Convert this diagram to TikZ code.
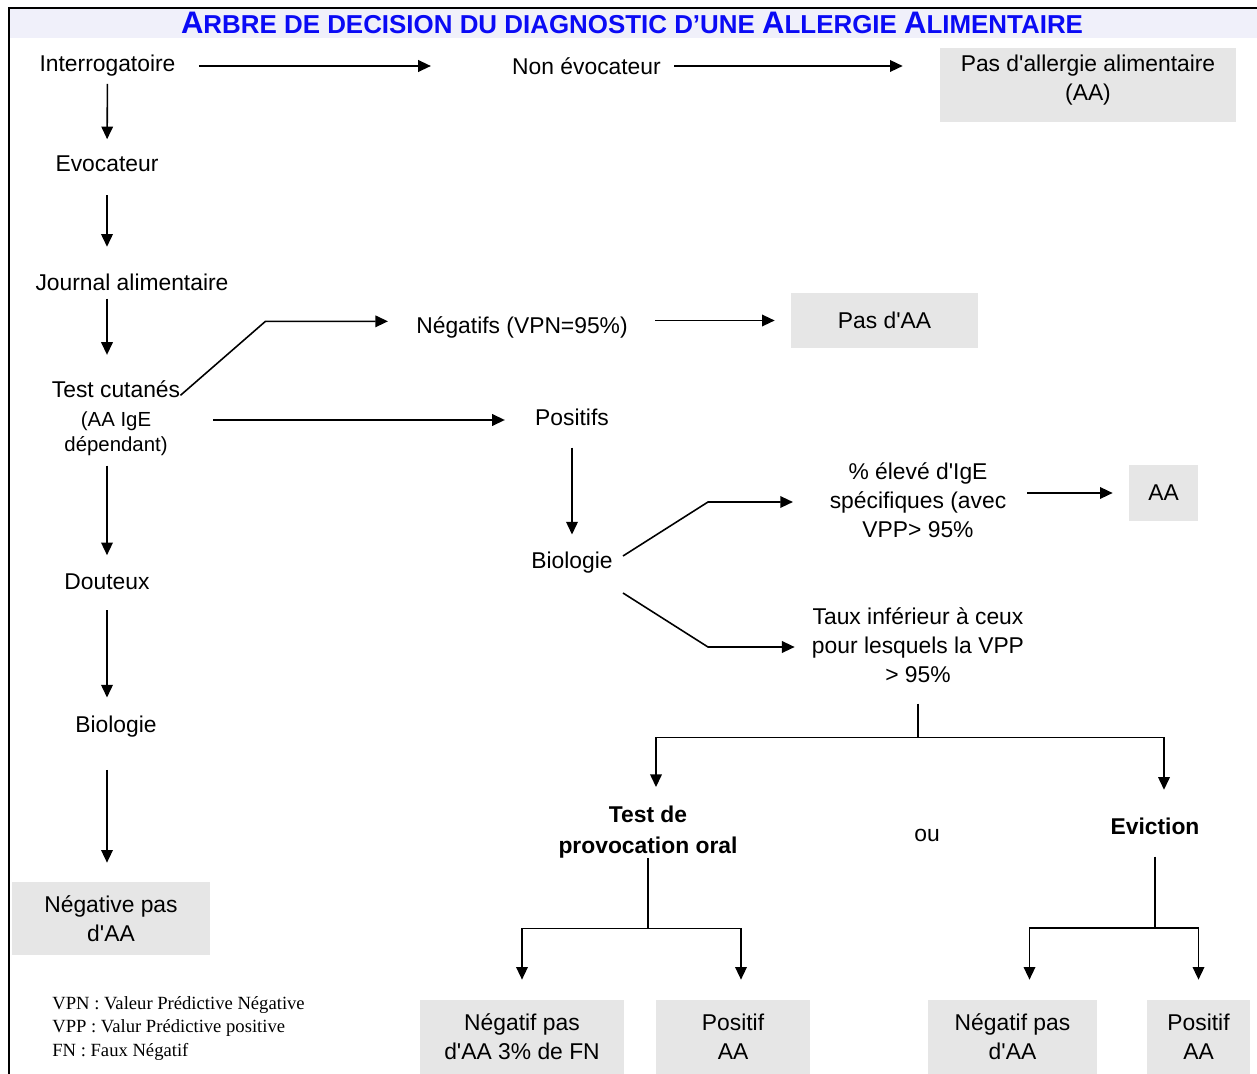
\documentclass[tikz,border=0pt]{standalone}
\usepackage{fontspec}
\setmainfont{Liberation Sans}[Ligatures=TeXOff]
\newfontfamily\legendfont{Liberation Serif}
\usepackage{graphicx}
\usepackage{xcolor}
\usetikzlibrary{positioning}
\usetikzlibrary{arrows.meta}
\usetikzlibrary{calc}

\definecolor{boxgray}{RGB}{230,230,230}
\definecolor{bandfill}{RGB}{240,240,250}
\definecolor{titleblue}{RGB}{10,10,245}
\newcommand{\tbig}[1]{{\fontsize{17.7pt}{19pt}\selectfont #1}}
\newcommand{\smalltxt}{\fontsize{11.6pt}{14.2pt}\selectfont}

\begin{document}
\begin{tikzpicture}[
		x=0.02cm, y=-0.02cm,
		% Style definitions for the decision tree
		txt/.style={inner sep=0pt, font=\fontsize{13pt}{16.4pt}\selectfont, align=center},
		boldtxt/.style={txt, font=\fontsize{13pt}{17.6pt}\selectfont\bfseries},
		result/.style={txt, fill=boxgray},
		title/.style={inner sep=0pt, font=\bfseries\fontsize{14.75pt}{17pt}\selectfont, text=titleblue},
		legend/.style={inner sep=0pt, font=\legendfont\fontsize{10.6pt}{13.3pt}\selectfont, align=left},
		arrow/.style={-{Triangle[length=7.2pt, width=6.6pt]}, line width=0.9pt},
		link/.style={line width=0.9pt},
		frame/.style={line width=1.4pt},
		]
		\useasboundingbox (0,0) rectangle (1257,1074);

		% === Title band and frame ===
		\fill[bandfill] (10,9) rectangle (1257,38);
		\draw[frame] (1257,8) -- (9,8) -- (9,1074);
		\node[title] (title) at (632,23) {\tbig{A}RBRE DE DECISION DU DIAGNOSTIC D’UNE \tbig{A}LLERGIE \tbig{A}LIMENTAIRE};

		% === Left column ===
		\node[txt] (interro) at (107.5,66) {Interrogatoire};
		\node[txt] (evoc) at (107,164) {Evocateur};
		\node[txt] (journal) at (132,282) {Journal alimentaire};
		\node[txt] (testcut) at (116,418) {Test cutanés\\{\smalltxt (AA IgE}\\[-2.3pt]{\smalltxt dépendant)}};
		\node[txt] (douteux) at (107,582) {Douteux};
		\node[txt] (bio2) at (116,727) {Biologie};
		\node[result, minimum width=3.96cm, minimum height=1.46cm] (negative) at (111,918.5) {Négative pas\\d'AA};

		% === Top row ===
		\node[txt] (nonevo) at (586.5,66) {Non évocateur};
		\node[result, minimum width=5.92cm, minimum height=1.48cm, text depth=8pt] (pasaa1) at (1088,85) {Pas d'allergie alimentaire\\(AA)};

		% === Skin tests ===
		\node[txt] (negvpn) at (522,327) {Négatifs (VPN=95\%)};
		\node[result, minimum width=3.74cm, minimum height=1.1cm] (pasaa2) at (884.5,320.5) {Pas d'AA};
		\node[txt] (positifs) at (572,417) {Positifs};
		\node[txt] (bio1) at (572,563) {Biologie};

		% === Biology ===
		\node[txt] (igeel) at (918,500) {\% élevé d'IgE\\spécifiques (avec\\VPP> 95\%};
		\node[result, minimum width=1.38cm, minimum height=1.12cm] (aa) at (1163.5,493) {AA};
		\node[txt] (taux) at (918,645) {Taux inférieur à ceux\\pour lesquels la VPP\\> 95\%};

		% === Oral test or eviction ===
		\node[boldtxt] (tpo) at (648,832) {Test de\\provocation oral};
		\node[txt] (ou) at (927,835) {ou};
		\node[boldtxt] (eviction) at (1155,826) {Eviction};
		\node[result, minimum width=4.08cm, minimum height=1.48cm] (negfn) at (522,1037) {Négatif pas\\d'AA 3\% de FN};
		\node[result, minimum width=3.08cm, minimum height=1.48cm] (posaa1) at (733,1037) {Positif\\AA};
		\node[result, minimum width=3.38cm, minimum height=1.48cm] (negaa) at (1012.5,1037) {Négatif pas\\d'AA};
		\node[result, minimum width=2.06cm, minimum height=1.48cm] (posaa2) at (1198.5,1037) {Positif\\AA};

		% === Legend ===
		\node[legend, anchor=north west] (legend) at (52,996) {VPN : Valeur Prédictive Négative\\VPP : Valur Prédictive positive\\FN : Faux Négatif};

		% === Arrows: left column ===
		\draw[arrow, shorten <=0.14cm, shorten >=0.33cm] (interro) -- (evoc);
		\draw[arrow, shorten <=0.46cm, shorten >=0.53cm] (evoc) -- (evoc |- journal.north);
		\draw[arrow, shorten <=0.16cm, shorten >=0.51cm] (journal.south -| evoc) -- (testcut.north -| evoc);
		\draw[arrow, shorten <=0.2cm, shorten >=0.37cm] (testcut.south -| evoc) -- (douteux);
		\draw[arrow, shorten <=0.4cm, shorten >=0.37cm] (douteux) -- (douteux |- bio2.north);
		\draw[arrow, shorten <=0.64cm, shorten >=0.38cm] (bio2.south -| evoc) -- (negative.north -| evoc);

		% === Arrows: top row ===
		\draw[arrow, shorten <=0.46cm, shorten >=1.62cm] (interro) -- (nonevo);
		\draw[arrow, shorten <=0.26cm, shorten >=0.74cm] (nonevo.east) -- (nonevo.east -| pasaa1.west);

		% === Arrows: skin tests ===
		\draw[arrow, shorten >=0.56cm] ($(testcut.north east)+(0,15)$) -- ++(85,-74) coordinate (bendA) -- (bendA -| negvpn.west);
		\draw[arrow, shorten <=0.54cm, shorten >=0.32cm] (negvpn.east |- pasaa2) -- (pasaa2);
		\draw[arrow, shorten <=0.66cm, shorten >=0.6cm] ($(testcut.east)+(0,2)$) -- ($(testcut.east -| positifs.west)+(0,2)$);
		\draw[arrow, shorten <=0.44cm, shorten >=0.35cm] (positifs) -- (bio1);

		% === Arrows: biology ===
		\draw[arrow, shorten >=0.73cm] ($(bio1.east)+(10,-7)$) -- ++(85,-54) coordinate (bendB) -- (bendB -| igeel.west);
		\draw[arrow, shorten >=0.34cm] ($(bio1.east)+(10,30)$) -- ++(85,54) coordinate (bendC) -- (bendC -| taux.west);
		\draw[arrow, shorten <=0.41cm, shorten >=0.32cm] (igeel.east |- aa) -- (aa);

		% === Arrows: oral test or eviction ===
		\draw[link, shorten <=0.42cm] (taux.south) -- ++(0,55) coordinate (splitA);
		\draw[arrow, shorten >=0.37cm] (splitA) -| ($(tpo.north)+(8,0)$);
		\draw[arrow, shorten >=0.55cm] (splitA) -| ($(eviction.north)+(9,0)$);
		\draw[link] (tpo.south) -- ++(0,70) coordinate (splitB);
		\draw[arrow, shorten >=0.4cm] (splitB) -| (negfn);
		\draw[arrow, shorten >=0.4cm] (splitB) -| ($(posaa1.north)+(8,0)$);
		\draw[link, shorten <=0.44cm] (eviction.south) -- ++(0,93) coordinate (splitC);
		\draw[arrow, shorten >=0.4cm] (splitC) -| ($(negaa.north)+(17,0)$);
		\draw[arrow, shorten >=0.4cm] (splitC) -| (posaa2);

	\end{tikzpicture}
\end{document}
